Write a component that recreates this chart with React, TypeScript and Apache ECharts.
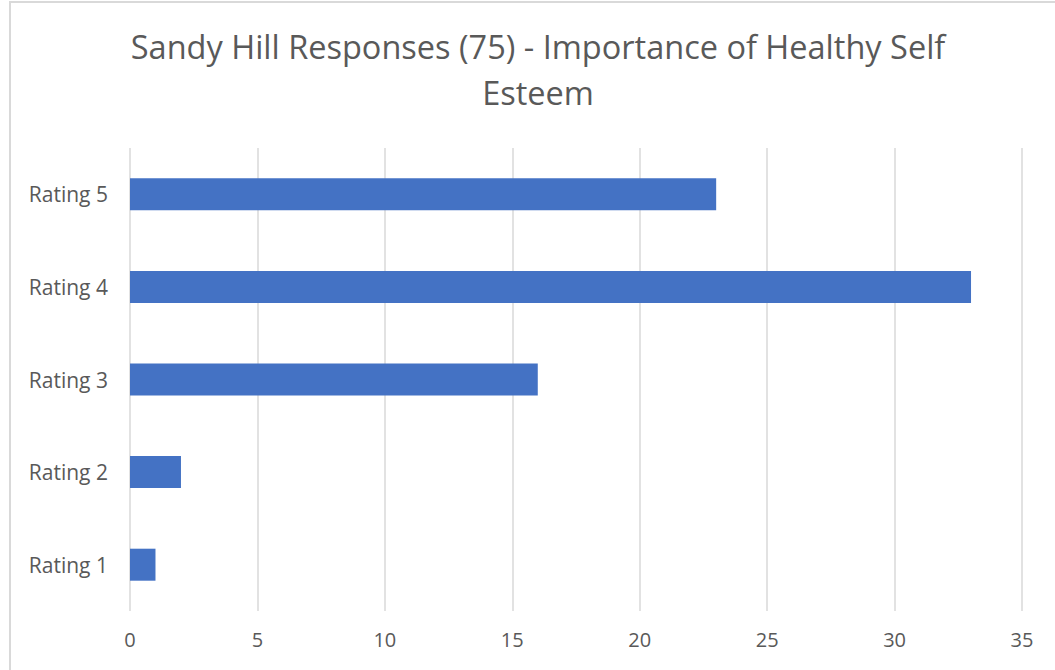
import React, { useEffect, useRef } from "react";
import * as echarts from "echarts";

const titleText = "Sandy Hill Responses (75) - Importance of Healthy Self\nEsteem";
const categories = ["Rating 1", "Rating 2", "Rating 3", "Rating 4", "Rating 5"];
const counts = [1, 2, 16, 33, 23];
const xMin = 0;
const xMax = 35;
const xStep = 5;

export default function App() {
  const ref = useRef<HTMLDivElement>(null);
  useEffect(() => {
    if (!ref.current) return;
    const chart = echarts.init(ref.current, null, { renderer: "svg" });
    chart.setOption({
      animation: false,
      backgroundColor: "#ffffff",
      textStyle: { fontFamily: "Open Sans" },
      title: {
        text: titleText,
        left: 533,
        textAlign: "center",
        top: 18,
        textStyle: {
          fontFamily: "Open Sans",
          fontSize: 32.5,
          fontWeight: "normal",
          color: "#595959",
          lineHeight: 46,
        },
      },
      graphic: [
        {
          type: "rect",
          shape: { x: 10, y: 2, width: 1100, height: 720 },
          style: { fill: "none", stroke: "#d9d9d9", lineWidth: 2 },
          silent: true,
        },
      ],
      grid: { left: 130, right: 33, top: 148, bottom: 59 },
      xAxis: {
        type: "value",
        min: xMin,
        max: xMax,
        interval: xStep,
        axisLine: { show: false },
        axisTick: { show: false },
        splitLine: { show: true, lineStyle: { color: "#d9d9d9", width: 1.5 } },
        axisLabel: { color: "#595959", fontSize: 20, margin: 18, fontFamily: "Open Sans" },
      },
      yAxis: {
        type: "category",
        data: categories,
        axisLine: { show: false },
        axisTick: { show: false },
        axisLabel: { color: "#595959", fontSize: 21, margin: 22, fontFamily: "Open Sans" },
      },
      series: [
        {
          type: "bar",
          data: counts,
          barWidth: 32,
          itemStyle: { color: "#4472C4" },
        },
      ],
    });
    return () => chart.dispose();
  }, []);
  return (
    <div
      ref={ref}
      style={{ position: "fixed", left: 0, top: 0, width: 1055, height: 670 }}
    />
  );
}
